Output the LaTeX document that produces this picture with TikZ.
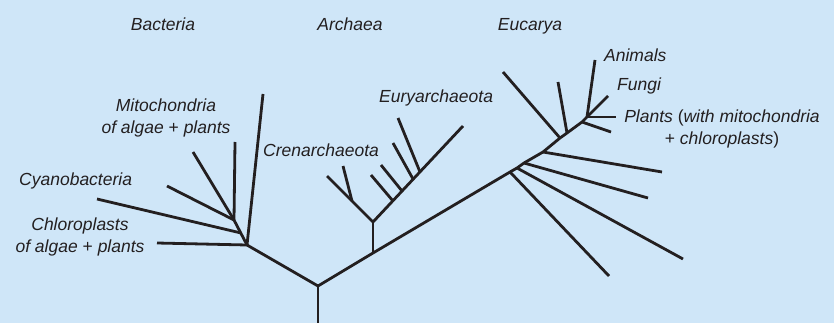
\documentclass[tikz,border=0pt]{standalone}
\usepackage{fontspec}
\setmainfont{Liberation Sans}
\definecolor{bg}{RGB}{207,230,248}
\definecolor{ink}{RGB}{35,31,32}
\begin{document}
\begin{tikzpicture}[x=1pt,y=-1pt,
  br/.style={line width=2.8pt, draw=ink},
  lab/.style={font=\fontsize{17.5}{22}\selectfont, text=ink, inner sep=0pt, align=center}]
\fill[bg] (0,0) rectangle (834,323);
\useasboundingbox (0,0) rectangle (834,323);
% root and main junctions
\coordinate (R0) at (318,323);
\coordinate (R) at (318,286);
\coordinate (B) at (247,245);
\coordinate (A) at (373,253);
% bacteria
\coordinate (Btop) at (263,94);
\coordinate (Bchl) at (157,243);
\coordinate (Bcyj) at (241,233);
\coordinate (Bcy) at (97,199);
\coordinate (B2) at (234,220);
\coordinate (Bm1) at (235,142);
\coordinate (Bm2) at (193,152);
\coordinate (Bm3) at (167,186);
% archaea
\coordinate (A2) at (373,222);
\coordinate (Al) at (327,176);
\coordinate (Alj) at (352,201);
\coordinate (Alt) at (343,166);
\coordinate (Ar) at (463,126);
\coordinate (Ar1) at (393,201);
\coordinate (Ar1t) at (371,175);
\coordinate (Ar2) at (402,191);
\coordinate (Ar2t) at (381,165);
\coordinate (Ar3) at (413,179);
\coordinate (Ar3t) at (393,143);
\coordinate (Ar4) at (420,172);
\coordinate (Ar4t) at (398,118);
% eucarya
\coordinate (E1) at (510,172);
\coordinate (E1t) at (609,276);
\coordinate (E2) at (517,168);
\coordinate (E2t) at (683,259);
\coordinate (E3) at (524,163);
\coordinate (E3t) at (648,198);
\coordinate (E4) at (543,152);
\coordinate (E4t) at (662,172);
\coordinate (E5) at (560,138);
\coordinate (E5t) at (503,72);
\coordinate (E6) at (567,133);
\coordinate (E6t) at (558,82);
\coordinate (E7) at (582,122);
\coordinate (E7t) at (611,132);
\coordinate (E8) at (587,117);
\coordinate (E8a) at (595,60);
\coordinate (E8b) at (608,96);
\coordinate (E8c) at (616,117);
% branches
\draw[br] (R0) -- (R);
\draw[br] (B) -- (R) -- (A) -- (E1) -- (E2) -- (E3) -- (E4) -- (E5) -- (E6) -- (E7) -- (E8);
\draw[br] (B) -- (Btop);
\draw[br] (B) -- (Bchl);
\draw[br] (Bcyj) -- (Bcy);
\draw[br] (B) -- (B2);
\draw[br] (B2) -- (Bm1);
\draw[br] (B2) -- (Bm2);
\draw[br] (B2) -- (Bm3);
\draw[br] (A) -- (A2);
\draw[br] (A2) -- (Al);
\draw[br] (Alj) -- (Alt);
\draw[br] (A2) -- (Ar);
\draw[br] (Ar1) -- (Ar1t);
\draw[br] (Ar2) -- (Ar2t);
\draw[br] (Ar3) -- (Ar3t);
\draw[br] (Ar4) -- (Ar4t);
\draw[br] (E1) -- (E1t);
\draw[br] (E2) -- (E2t);
\draw[br] (E3) -- (E3t);
\draw[br] (E4) -- (E4t);
\draw[br] (E5) -- (E5t);
\draw[br] (E6) -- (E6t);
\draw[br] (E7) -- (E7t);
\draw[br] (E8) -- (E8a);
\draw[br] (E8) -- (E8b);
\draw[br] (E8) -- (E8c);
% labels
\node[lab, anchor=base] (tB) at (163,31) {\itshape Bacteria};
\node[lab, anchor=base] (tA) at (350,31) {\itshape Archaea};
\node[lab, anchor=base] (tE) at (530,31) {\itshape Eucarya};
\node[lab, anchor=base west] (tAn) at (604,62) {\itshape Animals};
\node[lab, anchor=base west] (tF) at (617,91) {\itshape Fungi};
\node[lab, anchor=base] (tP) at (722,145) {\textit{Plants} (\textit{with mitochondria}\\+ \textit{chloroplasts})};
\node[lab, anchor=base west] (tEu) at (379,103) {\itshape Euryarchaeota};
\node[lab, anchor=base west] (tCr) at (263,157) {\itshape Crenarchaeota};
\node[lab, anchor=base] (tM) at (166,134) {\textit{Mitochondria}\\\textit{of algae} + \textit{plants}};
\node[lab, anchor=base west] (tCy) at (19,185) {\itshape Cyanobacteria};
\node[lab, anchor=base] (tCh) at (80,252) {\textit{Chloroplasts}\\\textit{of algae} + \textit{plants}};
\end{tikzpicture}
\end{document}
